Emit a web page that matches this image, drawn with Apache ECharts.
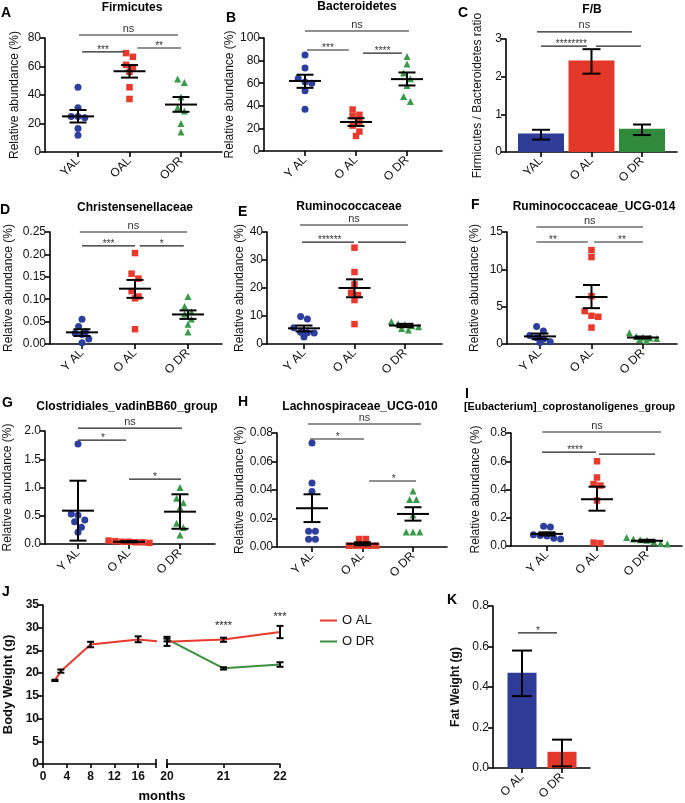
<!DOCTYPE html>
<html><head><meta charset="utf-8">
<script src="https://cdn.jsdelivr.net/npm/echarts@6/dist/echarts.min.js"></script>
<style>html,body{margin:0;padding:0;background:#fff}#c{width:685px;height:803px}</style>
</head><body><div id="c"></div>
<script>
// ---------- category labels ----------
const groupLabels = ['Y AL', 'O AL', 'O DR'];
const groupLabelsA = ['YAL', 'OAL', 'ODR'];
const groupLabelsC = ['YAL', 'O AL', 'O DR'];
const fatLabels = ['O AL', 'O DR'];

// ---------- A Firmicutes ----------
const firmicutesYAL = [45.4, 31.0, 25.0, 25.0, 24.0, 16.5, 11.8];
const firmicutesOAL = [69.4, 66.8, 61.2, 59.5, 56.2, 45.4, 37.2];
const firmicutesODR = [51.3, 48.7, 38.6, 31.3, 28.7, 20.0, 14.1];
const firmicutesMean = [25.0, 56.7, 33.3];
const firmicutesLo = [20.7, 52.2, 28.2];
const firmicutesHi = [29.5, 61.0, 38.6];
const firmicutesSig = [[0.02, 1.94, 82.1, 'ns'], [0.08, 0.89, 70.2, '***'], [1.15, 2.0, 73.0, '**']];

// ---------- B Bacteroidetes ----------
const bacteroidetesYAL = [84.9, 73.4, 64.2, 61.0, 60.0, 53.3, 37.0];
const bacteroidetesOAL = [36.7, 32.0, 30.8, 26.0, 22.5, 17.2, 13.3];
const bacteroidetesODR = [83.7, 77.0, 69.0, 64.0, 58.0, 48.2, 43.8];
const bacteroidetesMean = [62.0, 25.7, 63.6];
const bacteroidetesLo = [55.9, 22.2, 58.0];
const bacteroidetesHi = [67.5, 29.0, 69.5];
const bacteroidetesSig = [[0, 2.04, 106.2, 'ns'], [0.04, 0.86, 89.4, '***'], [1.14, 1.9, 86.7, '****']];

// ---------- C F/B ratio ----------
const fbRatio = [0.49, 2.43, 0.62];
const fbLo = [0.33, 2.08, 0.45];
const fbHi = [0.59, 2.73, 0.73];
const fbSig = [[-0.08, 1.8, 3.19, 'ns'], [0, 0.91, 2.81, '********', 0.6], [1.09, 1.98, 2.81, '']];

// ---------- D Christensenellaceae ----------
const christYAL = [0.055, 0.039, 0.027, 0.024, 0.021, 0.011, 0.003];
const christOAL = [0.203, 0.157, 0.146, 0.118, 0.106, 0.102, 0.033];
const christODR = [0.106, 0.084, 0.072, 0.067, 0.056, 0.044, 0.027];
const christMean = [0.026, 0.1235, 0.066];
const christLo = [0.018, 0.103, 0.056];
const christHi = [0.033, 0.143, 0.075];
const christSig = [[-0.04, 1.98, 0.25, 'ns'], [0, 1.0, 0.219, '***'], [1.09, 1.92, 0.219, '*']];

// ---------- E Ruminococcaceae ----------
const rumYAL = [9.8, 8.9, 5.8, 4.2, 4.0, 3.9, 2.5];
const rumOAL = [34.4, 25.7, 21.3, 18.3, 17.5, 15.7, 7.1];
const rumODR = [8.0, 7.2, 7.0, 6.5, 6.2, 5.5, 5.0];
const rumMean = [5.6, 20.0, 6.6];
const rumLo = [4.5, 16.7, 6.0];
const rumHi = [6.6, 23.1, 7.2];
const rumSig = [[-0.08, 2.06, 42.5, 'ns'], [-0.04, 0.99, 36.4, '******', 0.51], [1.07, 2.02, 36.4, '']];

// ---------- F Ruminococcaceae_UCG-014 ----------
const rum14YAL = [2.35, 1.75, 1.15, 0.85, 0.65, 0.3, 0.2];
const rum14OAL = [12.58, 11.64, 6.4, 4.4, 3.78, 3.64, 2.2];
const rum14ODR = [1.5, 1.0, 0.9, 0.8, 0.75, 0.6, 0.45];
const rum14Mean = [1.02, 6.3, 0.87];
const rum14Lo = [0.65, 4.8, 0.75];
const rum14Hi = [1.4, 7.9, 1.0];
const rum14Sig = [[-0.07, 2.0, 15.67, 'ns'], [-0.07, 0.93, 13.66, '**', 0.25], [1.05, 2.0, 13.66, '**', 1.59]];

// ---------- G Clostridiales_vadinBB60_group ----------
const clostYAL = [1.77, 0.53, 0.507, 0.425, 0.395, 0.295, 0.206];
const clostOAL = [0.06, 0.05, 0.04, 0.04, 0.03, 0.03, 0.02];
const clostODR = [1.0, 0.81, 0.73, 0.65, 0.366, 0.29, 0.16];
const clostMean = [0.59, 0.04, 0.572];
const clostLo = [0.06, 0.03, 0.27];
const clostHi = [1.12, 0.05, 0.88];
const clostSig = [[0, 2.04, 2.05, 'ns'], [0, 0.94, 1.84, '*', 0.49], [1.0, 2.02, 1.15, '*', 1.51]];

// ---------- H Lachnospiraceae_UCG-010 ----------
const lachYAL = [0.073, 0.045, 0.039, 0.011, 0.011, 0.0055, 0.0055];
const lachOAL = [0.0056, 0.0056, 0.0009, 0.0009, 0.0009, 0.0009, 0.0009];
const lachODR = [0.0393, 0.0334, 0.0334, 0.0224, 0.0106, 0.0106, 0.0106];
const lachMean = [0.0272, 0.0022, 0.0232];
const lachLo = [0.0175, 0.0012, 0.0185];
const lachHi = [0.037, 0.0033, 0.0279];
const lachSig = [[-0.08, 2.16, 0.0863, 'ns'], [-0.04, 1.03, 0.0758, '*', 0.51], [1.13, 2.06, 0.0463, '*', 1.62]];

// ---------- I [Eubacterium]_coprostanoligenes_group ----------
const eubYAL = [0.14, 0.135, 0.08, 0.075, 0.07, 0.055, 0.05];
const eubOAL = [0.6, 0.485, 0.438, 0.428, 0.322, 0.024, 0.019];
const eubODR = [0.06, 0.05, 0.045, 0.04, 0.03, 0.02, 0.015];
const eubMean = [0.086, 0.331, 0.037];
const eubLo = [0.075, 0.25, 0.03];
const eubHi = [0.097, 0.42, 0.044];
const eubSig = [[-0.09, 2.28, 0.807, 'ns', 1.0], [-0.1, 0.98, 0.665, '****', 0.56], [1.04, 2.16, 0.651, '']];

// ---------- J Body weight ----------
const monthsEarly = [2, 3, 8, 16];
const monthsLate = [20, 21, 22];
const monthTicksEarly = [0, 4, 8, 12, 16];
const monthTicksLate = [20, 21, 22];
const oalWeightEarly = [18.4, 20.4, 26.3, 27.4];
const oalWeightEarlyLo = [18.25, 20.1, 25.7, 26.8];
const oalWeightEarlyHi = [18.55, 20.8, 26.9, 28.1];
const oalWeightLate = [26.9, 27.4, 29.05];
const oalWeightLateLo = [26.0, 26.9, 27.7];
const oalWeightLateHi = [27.6, 27.8, 30.4];
const odrWeightLate = [27.5, 21.06, 21.9];
const odrWeightLateLo = [27.0, 20.8, 21.4];
const odrWeightLateHi = [28.0, 21.3, 22.4];
const weightStars = [[21, 31.1, '****'], [22, 33.1, '***']];

// ---------- K Fat weight ----------
const fatWeight = [0.47, 0.08];
const fatLo = [0.355, 0.008];
const fatHi = [0.58, 0.14];
const fatSig = [[-0.1, 0.875, 0.667, '*', 0.4]];

// ================= styling / layout =================
const FONT = '"Liberation Sans", Arial, Helvetica, sans-serif';
const BLACK = '#111';
const ptColors = ['#2d3e9e', '#e8392c', '#3b9a4a'];
const barColors = ['#2e3b97', '#e3372a', '#2f8a3c'];
const ptSymbols = ['circle', 'rect', 'triangle'];
const lineRed = '#e8392c', lineGreen = '#3b8f3f';

const panels = [
  {letter: 'A', title: 'Firmicutes', labels: groupLabelsA, yMax: 80, yInt: 20, dec: 0, yName: 'Relative abundance (%)', vals: [firmicutesYAL, firmicutesOAL, firmicutesODR], mean: firmicutesMean, lo: firmicutesLo, hi: firmicutesHi, sig: firmicutesSig},
  {letter: 'B', title: 'Bacteroidetes', labels: groupLabels, yMax: 100, yInt: 20, dec: 0, yName: 'Relative abundance (%)', vals: [bacteroidetesYAL, bacteroidetesOAL, bacteroidetesODR], mean: bacteroidetesMean, lo: bacteroidetesLo, hi: bacteroidetesHi, sig: bacteroidetesSig},
  {letter: 'C', title: 'F/B', labels: groupLabelsC, yMax: 3, yInt: 1, dec: 0, yName: 'Firmicutes / Bacteroidetes ratio', bars: fbRatio, mean: fbRatio, lo: fbLo, hi: fbHi, sig: fbSig},
  {letter: 'D', title: 'Christensenellaceae', labels: groupLabels, yMax: 0.25, yInt: 0.05, dec: 2, yName: 'Relative abundance (%)', vals: [christYAL, christOAL, christODR], mean: christMean, lo: christLo, hi: christHi, sig: christSig},
  {letter: 'E', title: 'Ruminococcaceae', labels: groupLabels, yMax: 40, yInt: 10, dec: 0, yName: 'Relative abundance (%)', vals: [rumYAL, rumOAL, rumODR], mean: rumMean, lo: rumLo, hi: rumHi, sig: rumSig},
  {letter: 'F', title: 'Ruminococcaceae_UCG-014', labels: groupLabels, yMax: 15, yInt: 5, dec: 0, yName: 'Relative abundance (%)', vals: [rum14YAL, rum14OAL, rum14ODR], mean: rum14Mean, lo: rum14Lo, hi: rum14Hi, sig: rum14Sig},
  {letter: 'G', title: 'Clostridiales_vadinBB60_group', labels: groupLabels, yMax: 2, yInt: 0.5, dec: 1, yName: 'Relative abundance (%)', vals: [clostYAL, clostOAL, clostODR], mean: clostMean, lo: clostLo, hi: clostHi, sig: clostSig},
  {letter: 'H', title: 'Lachnospiraceae_UCG-010', labels: groupLabels, yMax: 0.08, yInt: 0.02, dec: 2, yName: 'Relative abundance (%)', vals: [lachYAL, lachOAL, lachODR], mean: lachMean, lo: lachLo, hi: lachHi, sig: lachSig},
  {letter: 'I', title: '[Eubacterium]_coprostanoligenes_group', labels: groupLabels, yMax: 0.8, yInt: 0.2, dec: 1, yName: 'Relative abundance (%)', vals: [eubYAL, eubOAL, eubODR], mean: eubMean, lo: eubLo, hi: eubHi, sig: eubSig}
];

const layout = {
  A: {L: 45, R: 222, T: 38, B: 152, c0: 78, c2: 181, gap: 24, tx: 132, ty: 8, lx: 1, ly: 13},
  B: {L: 264, R: 442, T: 38, B: 151, c0: 305, c2: 407, gap: 16.5, tx: 357, ty: 7, lx: 226, ly: 18},
  C: {L: 506, R: 677, T: 39, B: 152, c0: 541, c2: 642, gap: 22, tx: 592, ty: 10, lx: 458, ly: 13.5},
  D: {L: 50, R: 222, T: 232, B: 344, c0: 82, c2: 188, gap: 35, tx: 135, ty: 207.5, lx: 0, ly: 210.5},
  E: {L: 267, R: 442, T: 232, B: 344, c0: 304, c2: 405, gap: 19.5, tx: 349, ty: 207, lx: 238, ly: 212.5},
  F: {L: 507, R: 677, T: 232, B: 344, c0: 540, c2: 643, gap: 26, tx: 594, ty: 207, lx: 471, ly: 205.5},
  G: {L: 45, R: 215, T: 431, B: 544, c0: 78, c2: 180, gap: 31, tx: 127, ty: 407, lx: 2, ly: 403},
  H: {L: 277, R: 447, T: 433, B: 547, c0: 312, c2: 413, gap: 29.5, tx: 360, ty: 407, lx: 238, ly: 402.5},
  I: {L: 511, R: 682, T: 433, B: 546, c0: 547, c2: 647, gap: 29.5, tx: 464, ty: 407.5, lx: 465, ly: 394, titleLeft: true, titleSize: 10.8}
};

// beeswarm-like horizontal spread (pixel spacing converted to axis units)
function swarm(vals, cat, pxPerUnit, pxPerCat, d) {
  const idx = vals.map((v, i) => i).sort((a, b) => vals[b] - vals[a]);
  const out = [];
  let i = 0;
  while (i < idx.length) {
    let j = i + 1;
    while (j < idx.length && (vals[idx[i]] - vals[idx[j]]) * pxPerUnit < d * 0.95) j++;
    const n = j - i;
    for (let k = 0; k < n; k++) {
      const off = (k - (n - 1) / 2) * d;
      out.push([cat + off / pxPerCat, vals[idx[i + k]]]);
    }
    i = j;
  }
  return out;
}

function txt(x, y, text, font, align, valign, fill) {
  return {type: 'text', x, y, style: {text, font, fill: fill || '#000', align, textAlign: align, verticalAlign: valign, textVerticalAlign: valign}};
}

const axisLineStyle = {color: '#000', width: 1.6};

function xValAxis(gi, min, max, ticks, fmt, opts) {
  opts = opts || {};
  return {
    gridIndex: gi, type: 'value', min, max,
    axisLine: {show: true, onZero: false, lineStyle: axisLineStyle},
    axisTick: {show: true, customValues: ticks, length: opts.tickLen || 5, lineStyle: axisLineStyle},
    axisLabel: {show: true, customValues: ticks, formatter: fmt, rotate: opts.rotate || 0, fontSize: 12,
      fontWeight: opts.bold ? 'bold' : 'normal', color: BLACK, margin: opts.margin || 6, fontFamily: FONT},
    splitLine: {show: false}
  };
}
function yValAxis(gi, max, interval, dec, name, gap, opts) {
  opts = opts || {};
  return {
    gridIndex: gi, type: 'value', min: 0, max, interval, show: opts.hidden ? false : true,
    name, nameLocation: 'middle', nameGap: gap,
    nameTextStyle: {fontSize: opts.nameSize || 12, fontWeight: opts.bold ? 'bold' : 'normal', color: BLACK, fontFamily: FONT},
    axisLine: {show: true, onZero: false, lineStyle: axisLineStyle},
    axisTick: {show: true, length: 5, lineStyle: axisLineStyle},
    axisLabel: {formatter: v => v.toFixed(dec), fontSize: 12, fontWeight: opts.bold ? 'bold' : 'normal', color: BLACK, margin: 4, fontFamily: FONT},
    splitLine: {show: false}
  };
}
function errSeries(gi, data, meanW, capW, lw) {
  return {
    type: 'custom', xAxisIndex: gi, yAxisIndex: gi, z: 6, silent: true, clip: false,
    data, encode: {x: 0, y: [1, 2, 3]},
    renderItem: (params, api) => {
      const x = api.value(0), m = api.value(1), lo = api.value(2), hi = api.value(3);
      const pm = api.coord([x, m]), pl = api.coord([x, lo]), ph = api.coord([x, hi]);
      const st = {stroke: '#000', lineWidth: lw || 2};
      const ch = [
        {type: 'line', shape: {x1: pl[0], y1: pl[1], x2: ph[0], y2: ph[1]}, style: st},
        {type: 'line', shape: {x1: pl[0] - capW / 2, y1: pl[1], x2: pl[0] + capW / 2, y2: pl[1]}, style: st},
        {type: 'line', shape: {x1: ph[0] - capW / 2, y1: ph[1], x2: ph[0] + capW / 2, y2: ph[1]}, style: st}
      ];
      if (meanW) ch.push({type: 'line', shape: {x1: pm[0] - meanW / 2, y1: pm[1], x2: pm[0] + meanW / 2, y2: pm[1]}, style: st});
      return {type: 'group', children: ch};
    }
  };
}
function sigSeries(gi, sig) {
  return {
    type: 'custom', xAxisIndex: gi, yAxisIndex: gi, z: 6, silent: true, clip: false,
    data: sig.map(r => [r[0], r[1], r[2]]), encode: {x: [0, 1], y: 2},
    renderItem: (params, api) => {
      const r = sig[params.dataIndex];
      const p1 = api.coord([r[0], r[2]]), p2 = api.coord([r[1], r[2]]);
      const lx = r.length > 4 ? r[4] : (r[0] + r[1]) / 2;
      const pl = api.coord([lx, r[2]]);
      const ch = [{type: 'line', shape: {x1: p1[0], y1: p1[1], x2: p2[0], y2: p2[1]}, style: {stroke: '#222', lineWidth: 1.2}}];
      if (r[3]) {
        const star = r[3] !== 'ns';
        ch.push(txt(pl[0], star ? pl[1] + 3 : pl[1] - 1, r[3], (star ? '10px ' : '11px ') + FONT, 'center', 'bottom', '#333'));
      }
      return {type: 'group', children: ch};
    }
  };
}

const grid = [], xAxis = [], yAxis = [], series = [], graphic = [];

panels.forEach((p, gi) => {
  const Lo = layout[p.letter];
  grid.push({left: Lo.L, top: Lo.T, width: Lo.R - Lo.L, height: Lo.B - Lo.T});
  const s = (Lo.c2 - Lo.c0) / 2;
  xAxis.push(xValAxis(gi, (Lo.L - Lo.c0) / s, 2 + (Lo.R - Lo.c2) / s, [0, 1, 2], v => p.labels[Math.round(v)], {rotate: 45, margin: 7}));
  yAxis.push(yValAxis(gi, p.yMax, p.yInt, p.dec, p.yName, Lo.gap));
  const pxPerUnit = (Lo.B - Lo.T) / p.yMax;
  if (p.bars) {
    series.push({type: 'bar', xAxisIndex: gi, yAxisIndex: gi, barWidth: 46, z: 2,
      data: p.bars.map((v, i) => ({value: [i, v], itemStyle: {color: barColors[i]}}))});
    series.push(errSeries(gi, p.bars.map((v, i) => [i, v, p.lo[i], p.hi[i]]), 0, 18, 2));
  } else {
    p.vals.forEach((vals, g) => {
      series.push({type: 'scatter', xAxisIndex: gi, yAxisIndex: gi, symbol: ptSymbols[g], symbolSize: g === 1 ? 6.5 : 7, z: 2,
        itemStyle: {color: ptColors[g], opacity: 1}, data: swarm(vals, g, pxPerUnit, s, 6.8)});
    });
    series.push(errSeries(gi, p.mean.map((m, i) => [i, m, p.lo[i], p.hi[i]]), 32, 17, 2));
  }
  series.push(sigSeries(gi, p.sig));
  graphic.push(txt(Lo.tx, Lo.ty, p.title, 'bold ' + (Lo.titleSize || 12) + 'px ' + FONT, Lo.titleLeft ? 'left' : 'center', 'middle'));
  graphic.push(txt(Lo.lx, Lo.ly, p.letter, 'bold 14px ' + FONT, 'left', 'middle'));
});

// ---------- J: body weight (broken x axis -> two grids) ----------
const gJ1 = grid.length, gJ2 = gJ1 + 1;
grid.push({left: 43, top: 605, width: 113, height: 159});
grid.push({left: 167, top: 605, width: 113, height: 159});
xAxis.push(xValAxis(gJ1, 0, 19, monthTicksEarly, v => String(v), {bold: true, tickLen: 4, margin: 7}));
xAxis.push(xValAxis(gJ2, 20, 22, monthTicksLate, v => String(v), {bold: true, tickLen: 4, margin: 7}));
yAxis.push(yValAxis(gJ1, 35, 5, 0, 'Body Weight (g)', 28, {bold: true, nameSize: 13}));
yAxis.push(yValAxis(gJ2, 35, 5, 0, '', 0, {hidden: true}));

series.push({type: 'line', name: 'O AL', xAxisIndex: gJ1, yAxisIndex: gJ1, symbol: 'none', clip: true, z: 3,
  lineStyle: {color: lineRed, width: 2}, itemStyle: {color: lineRed},
  data: monthsEarly.map((m, i) => [m, oalWeightEarly[i]]).concat([[monthsLate[0], oalWeightLate[0]]])});
series.push(errSeries(gJ1, monthsEarly.map((m, i) => [m, oalWeightEarly[i], oalWeightEarlyLo[i], oalWeightEarlyHi[i]]), 0, 7, 2));
series.push({type: 'line', name: 'O DR', xAxisIndex: gJ2, yAxisIndex: gJ2, symbol: 'none', z: 3,
  lineStyle: {color: lineGreen, width: 2}, itemStyle: {color: lineGreen},
  data: monthsLate.map((m, i) => [m, odrWeightLate[i]])});
series.push({type: 'line', name: 'O AL', xAxisIndex: gJ2, yAxisIndex: gJ2, symbol: 'none', z: 3,
  lineStyle: {color: lineRed, width: 2}, itemStyle: {color: lineRed},
  data: monthsLate.map((m, i) => [m, oalWeightLate[i]])});
series.push(errSeries(gJ2, monthsLate.map((m, i) => [m, oalWeightLate[i], oalWeightLateLo[i], oalWeightLateHi[i]]), 0, 7, 2));
series.push(errSeries(gJ2, monthsLate.map((m, i) => [m, odrWeightLate[i], odrWeightLateLo[i], odrWeightLateHi[i]]), 0, 7, 2));
// axis break marks
[[gJ1, 19], [gJ2, 20]].forEach(([g, xv]) => {
  series.push({type: 'custom', xAxisIndex: g, yAxisIndex: g, silent: true, clip: false, z: 7, data: [[xv, 0]],
    renderItem: (params, api) => {
      const p = api.coord([api.value(0), api.value(1)]);
      return {type: 'line', shape: {x1: p[0], y1: p[1] - 5, x2: p[0], y2: p[1] + 4}, style: {stroke: '#000', lineWidth: 1.6}};
    }});
});
series.push({type: 'custom', xAxisIndex: gJ2, yAxisIndex: gJ2, silent: true, clip: false, z: 7,
  data: weightStars.map(r => [r[0], r[1]]),
  renderItem: (params, api) => {
    const p = api.coord([api.value(0), api.value(1)]);
    return txt(p[0], p[1] + 3, weightStars[params.dataIndex][2], '11px ' + FONT, 'center', 'middle', '#222');
  }});
graphic.push(txt(162, 796, 'months', 'bold 13px ' + FONT, 'center', 'middle'));
graphic.push(txt(2, 592, 'J', 'bold 14px ' + FONT, 'left', 'middle'));

// ---------- K: fat weight ----------
const gK = grid.length;
grid.push({left: 493, top: 606, width: 97, height: 162});
{
  const c0 = 522, c1 = 562, s = c1 - c0;
  xAxis.push(xValAxis(gK, (493 - c0) / s, 1 + (590 - c1) / s, [0, 1], v => fatLabels[Math.round(v)], {rotate: 45, margin: 7}));
}
yAxis.push(yValAxis(gK, 0.8, 0.2, 1, 'Fat Weight (g)', 31, {bold: true, nameSize: 12}));
yAxis[gK].axisLabel.fontWeight = 'normal';
series.push({type: 'bar', xAxisIndex: gK, yAxisIndex: gK, barWidth: 29, z: 2,
  data: fatWeight.map((v, i) => ({value: [i, v], itemStyle: {color: barColors[i]}}))});
series.push(errSeries(gK, fatWeight.map((v, i) => [i, v, fatLo[i], fatHi[i]]), 0, 20, 2));
series.push(sigSeries(gK, fatSig));
graphic.push(txt(447, 600, 'K', 'bold 14px ' + FONT, 'left', 'middle'));

const chart = echarts.init(document.getElementById('c'), null, {renderer: 'canvas'});
chart.setOption({
  animation: false,
  backgroundColor: '#fff',
  textStyle: {fontFamily: FONT},
  grid, xAxis, yAxis, series, graphic,
  legend: {data: ['O AL', 'O DR'], orient: 'vertical', left: 315, top: 609, icon: 'rect', itemWidth: 17, itemHeight: 2,
    itemGap: 8, textStyle: {fontSize: 13, color: BLACK, fontFamily: FONT}, selectedMode: false}
});
</script>
</body></html>
